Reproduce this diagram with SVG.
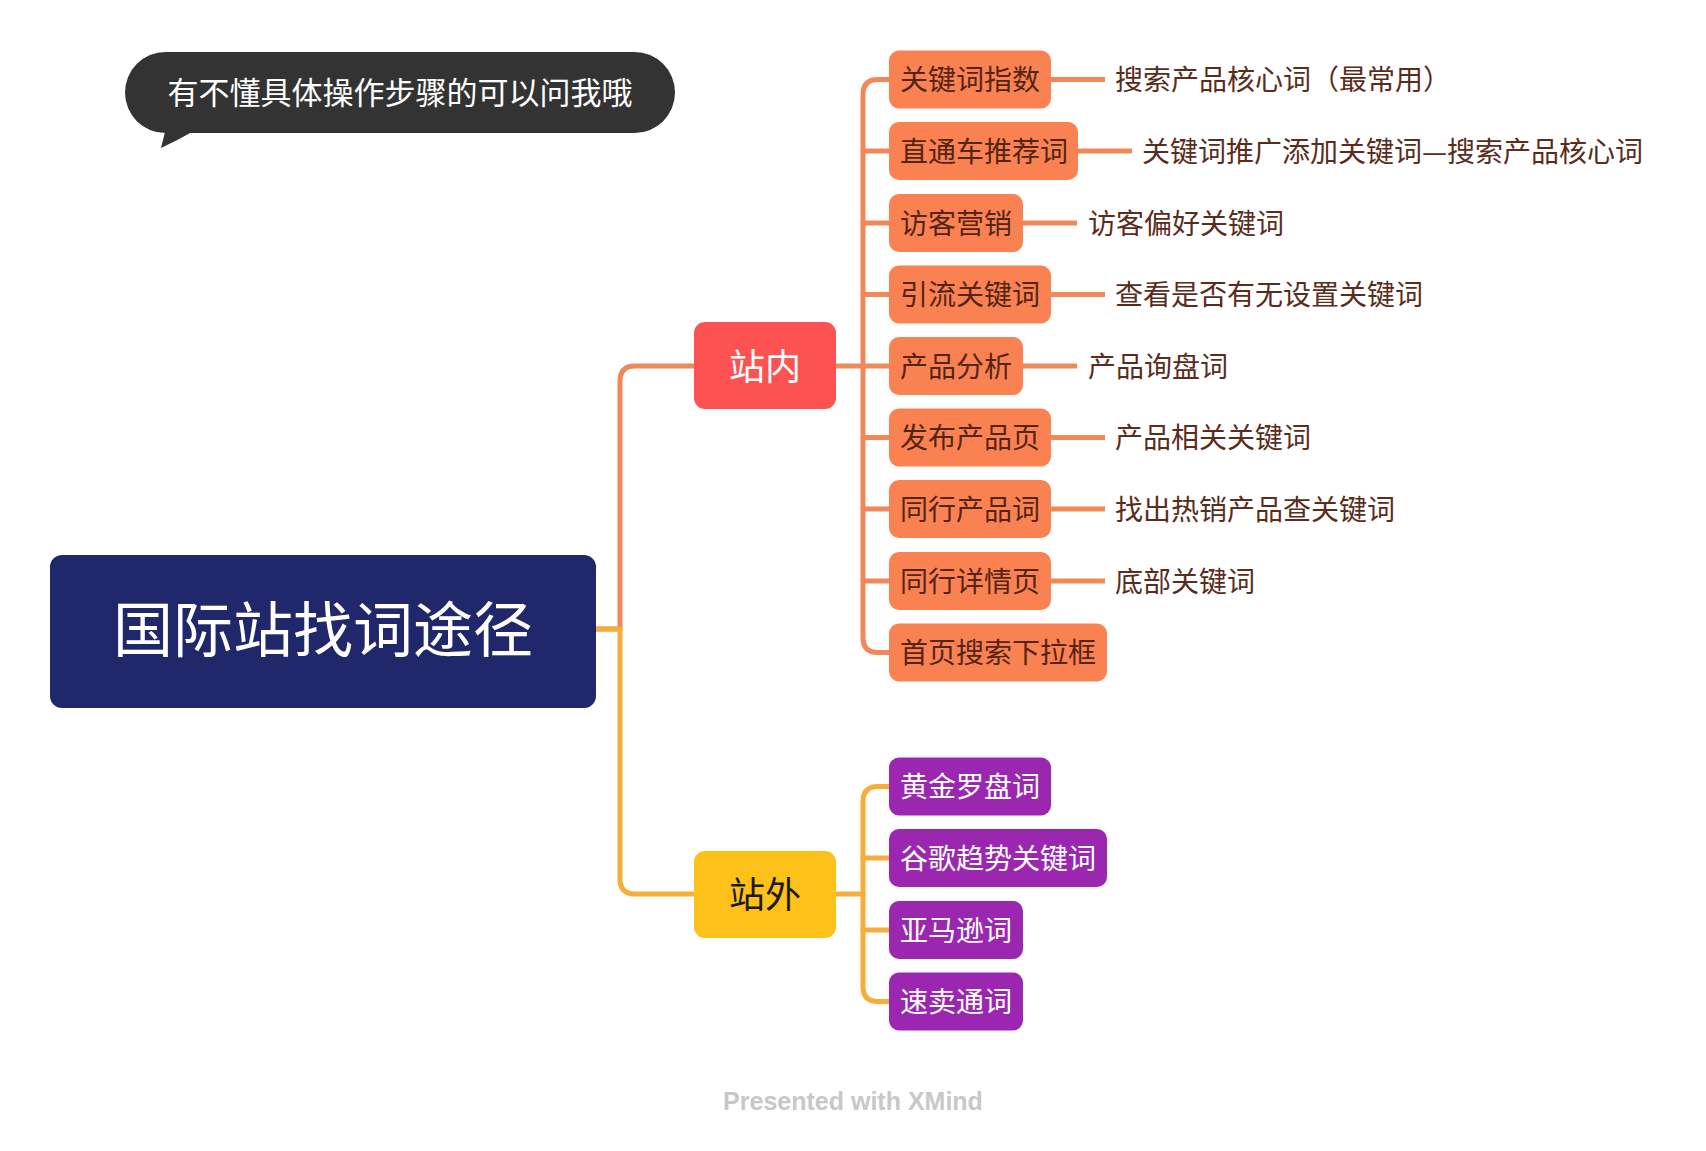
<svg xmlns="http://www.w3.org/2000/svg" width="1706" height="1151" viewBox="0 0 1706 1151">
<style>
text{font-family:"Noto Sans CJK SC","Liberation Sans",sans-serif}
.c{fill:none;stroke-width:5;stroke-linecap:round;stroke-linejoin:round}
.co{stroke:#f2875a}
.cy{stroke:#f6ad3a}
.o rect{fill:#fa8252}
.o text{fill:#542414;font-size:28px}
.p rect{fill:#9b27b0}
.p text{fill:#ffffff;font-size:28px}
.lbl{fill:#5a2c1c;font-size:28px}
.sl{stroke:#f2875a;stroke-width:5}
</style>
<rect width="1706" height="1151" fill="#ffffff"/>
<g id="bubble">
<path d="M165,132 L161,148 Q178,140 192,132 Z" fill="#333333"/>
<rect x="125" y="52" width="550" height="81" rx="40.5" fill="#333333"/>
<text x="400" y="104" font-size="31" fill="#ffffff" text-anchor="middle">有不懂具体操作步骤的可以问我哦</text>
</g>
<g id="connectors">
<path class="c co" d="M596,629 H620 V381 Q620,366 635,366 H694"/>
<path class="c cy" d="M596,629 H620 V879 Q620,894 635,894 H694"/>
<path class="c co" d="M836,366 H863"/>
<path class="c co" d="M889,79.5 H878 Q863,79.5 863,94.5 V637.5 Q863,652.5 878,652.5 H889"/>
<path class="c co" d="M863,151 H889 M863,223 H889 M863,294.5 H889 M863,366 H889 M863,437.5 H889 M863,509 H889 M863,581 H889"/>
<path class="c cy" d="M836,894 H863"/>
<path class="c cy" d="M889,786.5 H878 Q863,786.5 863,801.5 V986.5 Q863,1001.5 878,1001.5 H889"/>
<path class="c cy" d="M863,858 H889 M863,930 H889"/>
<line class="sl" x1="1051" y1="79.5" x2="1105" y2="79.5"/>
<line class="sl" x1="1078" y1="151" x2="1132" y2="151"/>
<line class="sl" x1="1023" y1="223" x2="1077" y2="223"/>
<line class="sl" x1="1051" y1="294.5" x2="1105" y2="294.5"/>
<line class="sl" x1="1023" y1="366" x2="1077" y2="366"/>
<line class="sl" x1="1051" y1="437.5" x2="1105" y2="437.5"/>
<line class="sl" x1="1051" y1="509" x2="1105" y2="509"/>
<line class="sl" x1="1051" y1="581" x2="1105" y2="581"/>
</g>
<g id="root">
<rect x="50" y="555" width="546" height="153" rx="12" fill="#20276a"/>
<text x="323" y="652" font-size="60" fill="#ffffff" text-anchor="middle">国际站找词途径</text>
</g>
<g id="zhannei">
<rect x="694" y="322" width="142" height="87" rx="11" fill="#fc5251"/>
<text x="765" y="380" font-size="36" fill="#ffffff" text-anchor="middle">站内</text>
</g>
<g id="zhanwai">
<rect x="694" y="851" width="142" height="87" rx="11" fill="#fdc119"/>
<text x="765" y="908" font-size="36" fill="#1a1a1a" text-anchor="middle">站外</text>
</g>
<g id="n1" class="o"><rect x="889" y="50.5" width="162" height="58" rx="10"/><text x="900" y="90">关键词指数</text></g>
<g id="n2" class="o"><rect x="889" y="122" width="189" height="58" rx="10"/><text x="900" y="161.5">直通车推荐词</text></g>
<g id="n3" class="o"><rect x="889" y="194" width="134" height="58" rx="10"/><text x="900" y="233.5">访客营销</text></g>
<g id="n4" class="o"><rect x="889" y="265.5" width="162" height="58" rx="10"/><text x="900" y="305">引流关键词</text></g>
<g id="n5" class="o"><rect x="889" y="337" width="134" height="58" rx="10"/><text x="900" y="376.5">产品分析</text></g>
<g id="n6" class="o"><rect x="889" y="408.5" width="162" height="58" rx="10"/><text x="900" y="448">发布产品页</text></g>
<g id="n7" class="o"><rect x="889" y="480" width="162" height="58" rx="10"/><text x="900" y="519.5">同行产品词</text></g>
<g id="n8" class="o"><rect x="889" y="552" width="162" height="58" rx="10"/><text x="900" y="591.5">同行详情页</text></g>
<g id="n9" class="o"><rect x="889" y="623.5" width="218" height="58" rx="10"/><text x="900" y="663">首页搜索下拉框</text></g>
<g id="l1"><text class="lbl" x="1115" y="90">搜索产品核心词（最常用）</text></g>
<g id="l2"><text class="lbl" x="1142" y="161.5">关键词推广添加关键词—搜索产品核心词</text></g>
<g id="l3"><text class="lbl" x="1088" y="233.5">访客偏好关键词</text></g>
<g id="l4"><text class="lbl" x="1115" y="305">查看是否有无设置关键词</text></g>
<g id="l5"><text class="lbl" x="1088" y="376.5">产品询盘词</text></g>
<g id="l6"><text class="lbl" x="1115" y="448">产品相关关键词</text></g>
<g id="l7"><text class="lbl" x="1115" y="519.5">找出热销产品查关键词</text></g>
<g id="l8"><text class="lbl" x="1115" y="591.5">底部关键词</text></g>
<g id="p1" class="p"><rect x="889" y="757.5" width="162" height="58" rx="10"/><text x="900" y="797">黄金罗盘词</text></g>
<g id="p2" class="p"><rect x="889" y="829" width="218" height="58" rx="10"/><text x="900" y="868.5">谷歌趋势关键词</text></g>
<g id="p3" class="p"><rect x="889" y="901" width="134" height="58" rx="10"/><text x="900" y="940.5">亚马逊词</text></g>
<g id="p4" class="p"><rect x="889" y="972.5" width="134" height="58" rx="10"/><text x="900" y="1012">速卖通词</text></g>
<text x="853" y="1110" font-size="25" font-weight="bold" fill="#c8c8c8" text-anchor="middle" style="font-family:'Liberation Sans',sans-serif">Presented with XMind</text>
</svg>
